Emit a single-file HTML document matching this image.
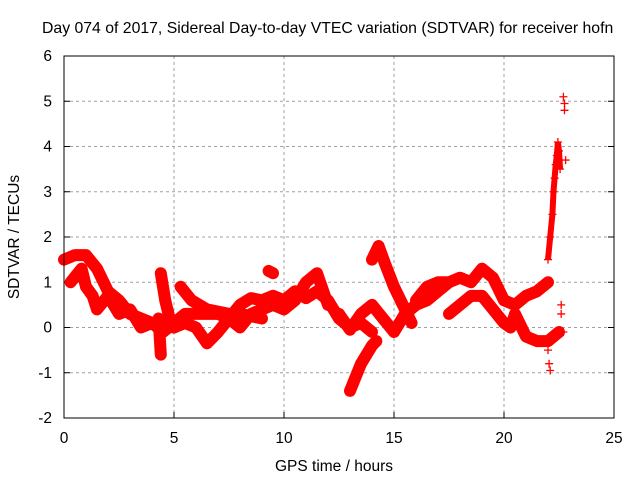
<!DOCTYPE html>
<html><head><meta charset="utf-8"><style>
body{margin:0;background:#fff}
svg{display:block;font-family:"Liberation Sans",sans-serif}
</style></head><body>
<svg id="chart" width="640" height="480" viewBox="0 0 640 480">
<text x="42" y="33" font-size="15.8" fill="#000">Day 074 of 2017, Sidereal Day-to-day VTEC variation (SDTVAR) for receiver hofn</text>
<g id="grid"></g>
<g id="ticks"></g>
<g id="marks"></g>
<rect x="64" y="56" width="550" height="362" fill="none" stroke="#000" stroke-width="1"/>
<text x="334" y="471" font-size="15.5" text-anchor="middle">GPS time / hours</text>
<text transform="translate(19,237) rotate(-90)" font-size="15.5" text-anchor="middle">SDTVAR / TECUs</text>
</svg>
<script>
const xTicks=[0,5,10,15,20,25];
const yTicks=[-2,-1,0,1,2,3,4,5,6];
const trackA=[[0,1.5],[0.5,1.6],[1,1.6],[1.5,1.3],[2,0.8],[2.5,0.6],[3,0.3],[3.5,0.2],[4,0.1],[5,0.0],[5.5,0.1],[6,0.0],[6.5,-0.35],[7,-0.1],[7.5,0.2],[8,0.5],[8.5,0.65],[9,0.6],[9.5,0.7],[10,0.6],[10.5,0.8],[11,0.65],[11.5,0.8],[12,0.6],[12.5,0.2],[13,0.0],[13.5,0.1],[14,-0.1]];
const trackB=[[0.3,1.0],[0.8,1.3],[1,0.9],[1.3,0.7],[1.5,0.4],[2,0.7],[2.5,0.3],[3,0.4],[3.5,0.0],[4,0.1],[4.5,-0.1],[5,0.1],[5.5,0.3],[6,0.3],[7,0.3],[7.5,0.2],[8,0.0],[8.5,0.3],[9,0.4],[9.5,0.5],[10,0.4],[10.5,0.6],[11,1.0],[11.5,1.2],[12,0.5]];
const trackC=[[4.4,1.2],[4.6,0.6],[4.8,0.2],[5,0.0]];
const trackC2=[[4.3,0.2],[4.4,-0.6]];
const trackD=[[5.3,0.9],[5.8,0.6],[6.5,0.4],[7.5,0.3],[8,0.3],[9,0.2]];
const trackE=[[9.3,1.25],[9.5,1.2]];
const trackF=[[12.5,0.3],[13,-0.05],[13.5,0.3],[14,0.5],[14.5,0.2],[15,-0.1],[15.5,0.3],[16,0.5],[16.5,0.7]];
const trackG=[[13,-1.4],[13.5,-0.8],[14,-0.4],[14.2,-0.3]];
const trackH=[[14,1.5],[14.3,1.8],[14.6,1.4],[15,0.9],[15.5,0.4],[15.8,0.1]];
const trackI=[[15.5,0.3],[16,0.5],[16.5,0.6],[17,0.8],[17.5,1.0],[18,1.1],[18.5,1.0],[19,1.3],[19.5,1.1],[20,0.6],[20.5,0.5],[21,0.7],[21.5,0.8],[22,1.0]];
const trackJ=[[17.5,0.3],[18,0.5],[18.5,0.7],[19,0.7],[19.5,0.4],[20,0.1],[20.3,0.0],[20.5,0.3],[21,-0.2],[21.5,-0.3],[22,-0.3],[22.5,-0.1]];
const trackK=[[16,0.6],[16.5,0.9],[17,1.0],[17.5,1.0]];
const tracks=[trackA,trackB,trackC,trackC2,trackD,trackE,trackF,trackG,trackH,trackI,trackJ,trackK];
const spikeT=[22.0,22.1,22.2,22.25,22.3,22.35,22.4,22.45,22.5,22.55,22.7,22.75,22.8,22.75,22.0,22.05,22.1,22.6,22.6,22.7];
const spikeV=[1.5,2.0,2.5,3.0,3.3,3.6,3.8,4.1,3.9,3.5,5.1,4.95,3.7,4.8,-0.5,-0.8,-0.95,0.5,0.3,-0.1];

const NS='http://www.w3.org/2000/svg';
const X=t=>64+t*22;
const Y=v=>327.5-v*45.25;
const grid=document.getElementById('grid'),ticks=document.getElementById('ticks'),marks=document.getElementById('marks');
function mk(tag,a,p){const e=document.createElementNS(NS,tag);for(const k in a)e.setAttribute(k,a[k]);p.appendChild(e);return e;}
xTicks.forEach(t=>{
  const x=X(t);
  if(t>0&&t<25){const g=mk('line',{x1:x,y1:56,x2:x,y2:418,stroke:'#a0a0a0','stroke-dasharray':'3,3'},grid);
  
  }
  mk('line',{x1:x,y1:418,x2:x,y2:412,stroke:'#000'},ticks);
  const l=mk('text',{x:x,y:443,'font-size':15.5,'text-anchor':'middle'},ticks);l.textContent=t;
  
  
});
yTicks.forEach(v=>{
  const y=Y(v);
  if(v>-2&&v<6){const g=mk('line',{x1:64,y1:y,x2:614,y2:y,stroke:'#a0a0a0','stroke-dasharray':'3,3'},grid);
  
  }
  mk('line',{x1:64,y1:y,x2:70,y2:y,stroke:'#000'},ticks);
  mk('line',{x1:614,y1:y,x2:608,y2:y,stroke:'#000'},ticks);
  const l=mk('text',{x:52,y:y+5,'font-size':15.5,'text-anchor':'end'},ticks);l.textContent=v;
  
  
});
tracks.forEach(tr=>{
  const pl=mk('polyline',{points:tr.map(p=>X(p[0])+','+Y(p[1])).join(' '),fill:'none',stroke:'#ff0000','stroke-width':12,'stroke-linejoin':'round','stroke-linecap':'round'},marks);
  
  
});
spikeT.forEach((t,i)=>{
  const x=X(t),y=Y(spikeV[i]);
  const p=mk('path',{d:`M${x-4},${y}H${x+4}M${x},${y-4}V${y+4}`,stroke:'#ff0000','stroke-width':1.3},marks);
  
  
});
const sp=mk('polyline',{points:spikeT.slice(0,10).map((t,i)=>X(t)+','+Y(spikeV[i])).join(' '),fill:'none',stroke:'#ff0000','stroke-width':6},marks);


</script>
</body></html>
